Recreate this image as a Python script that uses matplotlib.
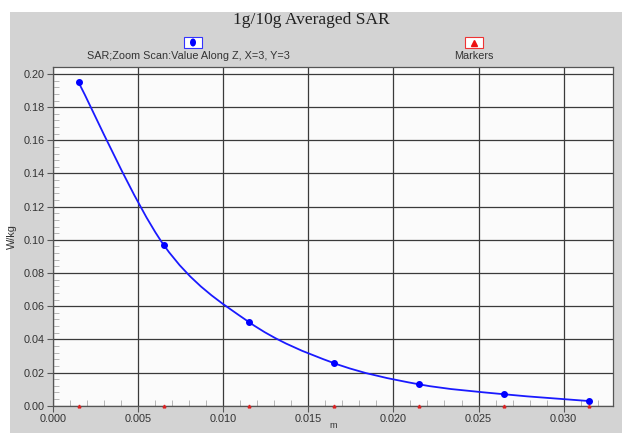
import matplotlib
matplotlib.use("Agg")
import matplotlib.pyplot as plt
from matplotlib.path import Path
from matplotlib.patches import PathPatch, Rectangle, Ellipse
from matplotlib.ticker import MultipleLocator

# datos
z_m = [0.0015, 0.0065, 0.0115, 0.0165, 0.0215, 0.0265, 0.0315]
sar_wkg = [0.195, 0.097, 0.0505, 0.0257, 0.0129, 0.0069, 0.0028]
marker_y = [0.0, 0.0, 0.0, 0.0, 0.0, 0.0, 0.0]

titulo = "1g/10g Averaged SAR"
serie_1 = "SAR;Zoom Scan:Value Along Z, X=3, Y=3"
serie_2 = "Markers"

plt.rcParams['font.family'] = ['Liberation Sans', 'DejaVu Sans']

fig = plt.figure(figsize=(6.22, 4.33), dpi=100)
fig.patch.set_facecolor("white")
# marco gris
fig.patches.append(Rectangle((10 / 622, 0), 1, 1 - 12 / 433, transform=fig.transFigure,
                             facecolor="#d3d3d3", edgecolor="none", zorder=-10))

ax = fig.add_axes([53 / 622, 27.3 / 433, 560 / 622, 338.7 / 433])
ax.set_facecolor("#fbfbfb")
ax.set_xlim(0, 0.0329)
ax.set_ylim(0, 0.2042)

ax.xaxis.set_major_locator(MultipleLocator(0.005))
ax.xaxis.set_minor_locator(MultipleLocator(0.001))
ax.yaxis.set_major_locator(MultipleLocator(0.02))
ax.yaxis.set_minor_locator(MultipleLocator(0.004))
ax.xaxis.set_major_formatter(lambda v, p: f"{v:.3f}")
ax.yaxis.set_major_formatter(lambda v, p: f"{v:.2f}")
ax.tick_params(which="major", direction="out", length=4, width=0.8, color="#555555",
               labelsize=7.8, labelcolor="#333333", pad=2)
ax.tick_params(which="minor", direction="in", length=4, width=0.6, color="#aaaaaa")
ax.grid(True, which="major", color="#3a3a3a", linewidth=0.9)
ax.set_axisbelow(True)
for s in ax.spines.values():
    s.set_color("#555555")
    s.set_linewidth(0.9)

# curva suave (Catmull-Rom con beziers)
pts = list(zip(z_m, sar_wkg))
verts = [pts[0]]
codes = [Path.MOVETO]
for i in range(len(pts) - 1):
    p0 = pts[i - 1] if i > 0 else pts[i]
    p1 = pts[i]
    p2 = pts[i + 1]
    p3 = pts[i + 2] if i + 2 < len(pts) else pts[i + 1]
    c1 = (p1[0] + (p2[0] - p0[0]) / 6, p1[1] + (p2[1] - p0[1]) / 6)
    c2 = (p2[0] - (p3[0] - p1[0]) / 6, p2[1] - (p3[1] - p1[1]) / 6)
    verts += [c1, c2, p2]
    codes += [Path.CURVE4] * 3
ax.add_patch(PathPatch(Path(verts, codes), facecolor="none", edgecolor="#1a1aff",
                       linewidth=1.3, zorder=3))
ax.plot(z_m, sar_wkg, linestyle="none", marker="o", markersize=4, color="#0000ff", zorder=4)
ax.plot(z_m, marker_y, linestyle="none", marker="^", markersize=2, color="#dd2222",
        zorder=4, clip_on=False)

ax.set_ylabel("W/kg", fontsize=7.8, color="#333333", labelpad=5)
ax.set_xlabel("m", fontsize=6.5, color="#333333", labelpad=-2)

# titulo y leyenda
fig.text(311 / 622, 1 - 20 / 433, titulo, family="Liberation Serif", fontsize=12.5,
         ha="center", va="center", color="#222222")
fig.patches.append(Rectangle((184 / 622, 1 - 48 / 433), 18 / 622, 11 / 433,
                             transform=fig.transFigure, facecolor="white",
                             edgecolor="#3333ff", linewidth=0.8))
fig.patches.append(Ellipse((193 / 622, 1 - 42.5 / 433), 6 / 622, 8 / 433,
                           transform=fig.transFigure, facecolor="#0000ff", edgecolor="none"))
fig.text(188 / 622, 1 - 56 / 433, serie_1, fontsize=7.8, ha="center", va="center", color="#333333")
fig.patches.append(Rectangle((465 / 622, 1 - 48 / 433), 18 / 622, 11 / 433,
                             transform=fig.transFigure, facecolor="white",
                             edgecolor="#ee3333", linewidth=0.8))
fig.lines.append(plt.Line2D([474 / 622], [1 - 42.5 / 433], transform=fig.transFigure,
                            marker="^", markersize=5, color="#ee1111", linestyle="none"))
fig.text(474 / 622, 1 - 56 / 433, serie_2, fontsize=7.8, ha="center", va="center", color="#333333")

fig.savefig("out.png", dpi=100)
